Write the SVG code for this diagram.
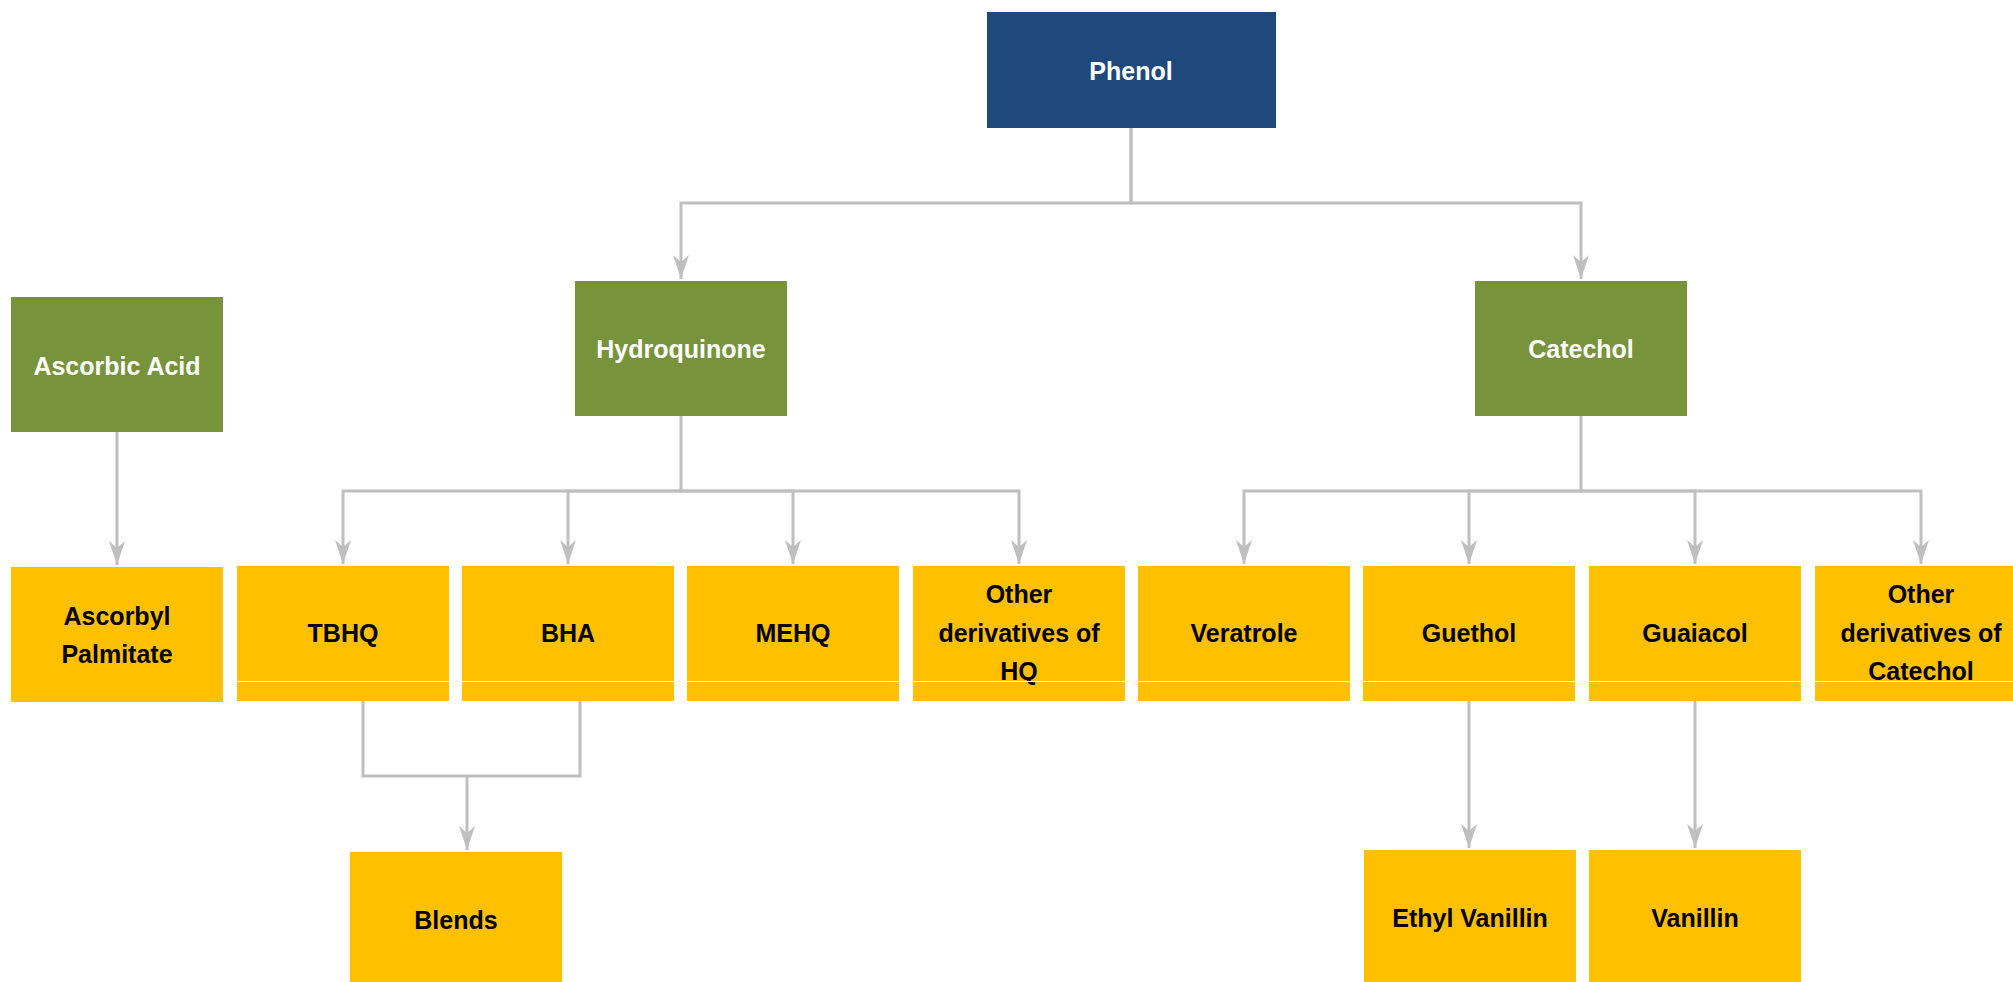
<svg xmlns="http://www.w3.org/2000/svg" width="2013" height="982" viewBox="0 0 2013 982">
<style>
.blue{fill:#1F497D}
.green{fill:#77933C}
.yel{fill:#FFC000}
text{font-family:"Liberation Sans",Arial,sans-serif;font-weight:bold;font-size:25px;text-anchor:middle}
.w{fill:#FFFFFF}
.k{fill:#000000}
.c{fill:none;stroke:#BFBFBF;stroke-width:3}
.a{marker-end:url(#arr)}
</style>
<defs>
<marker id="arr" markerUnits="userSpaceOnUse" markerWidth="26" markerHeight="18" viewBox="0 0 26 18" refX="24" refY="9" orient="auto">
<path d="M0,1 L24,9 L0,17 L7,9 Z" fill="#BFBFBF"/>
</marker>
</defs>
<g id="connectors">
<path class="c a" d="M1131,128 V203 H681 V279"/>
<path class="c a" d="M1131,128 V203 H1581 V279"/>
<path class="c a" d="M681,416 V491 H343 V564"/>
<path class="c a" d="M681,491 H568 V564"/>
<path class="c a" d="M681,491 H793 V564"/>
<path class="c a" d="M681,491 H1019 V564"/>
<path class="c a" d="M1581,416 V491 H1244 V564"/>
<path class="c a" d="M1581,491 H1469 V564"/>
<path class="c a" d="M1581,491 H1695 V564"/>
<path class="c a" d="M1581,491 H1921 V564"/>
<path class="c a" d="M117,432 V565"/>
<path class="c" d="M363,701 V776 H580 V701"/>
<path class="c a" d="M467,776 V850"/>
<path class="c a" d="M1469,701 V848"/>
<path class="c a" d="M1695,701 V848"/>
</g>
<g id="phenol"><rect class="blue" x="987" y="12" width="289" height="116"/><text class="w" x="1131" y="80">Phenol</text></g>
<g id="ascorbic-acid"><rect class="green" x="11" y="297" width="212" height="135"/><text class="w" x="117" y="375">Ascorbic Acid</text></g>
<g id="hydroquinone"><rect class="green" x="575" y="281" width="212" height="135"/><text class="w" x="681" y="358">Hydroquinone</text></g>
<g id="catechol"><rect class="green" x="1475" y="281" width="212" height="135"/><text class="w" x="1581" y="358">Catechol</text></g>
<g id="ascorbyl-palmitate"><rect class="yel" x="11" y="567" width="212" height="135"/><text class="k" x="117" y="625">Ascorbyl</text><text class="k" x="117" y="663">Palmitate</text></g>
<g id="tbhq"><rect class="yel" x="237" y="566" width="212" height="135"/><text class="k" x="343" y="642">TBHQ</text></g>
<g id="bha"><rect class="yel" x="462" y="566" width="212" height="135"/><text class="k" x="568" y="642">BHA</text></g>
<g id="mehq"><rect class="yel" x="687" y="566" width="212" height="135"/><text class="k" x="793" y="642">MEHQ</text></g>
<g id="other-hq"><rect class="yel" x="913" y="566" width="212" height="135"/><text class="k" x="1019" y="603">Other</text><text class="k" x="1019" y="642">derivatives of</text><text class="k" x="1019" y="680">HQ</text></g>
<g id="veratrole"><rect class="yel" x="1138" y="566" width="212" height="135"/><text class="k" x="1244" y="642">Veratrole</text></g>
<g id="guethol"><rect class="yel" x="1363" y="566" width="212" height="135"/><text class="k" x="1469" y="642">Guethol</text></g>
<g id="guaiacol"><rect class="yel" x="1589" y="566" width="212" height="135"/><text class="k" x="1695" y="642">Guaiacol</text></g>
<g id="other-catechol"><rect class="yel" x="1815" y="566" width="212" height="135"/><text class="k" x="1921" y="603">Other</text><text class="k" x="1921" y="642">derivatives of</text><text class="k" x="1921" y="680">Catechol</text></g>
<line x1="237" y1="681.5" x2="2013" y2="681.5" stroke="#FFFFFF" stroke-width="1.2"/>
<g id="blends"><rect class="yel" x="350" y="852" width="212" height="135"/><text class="k" x="456" y="929">Blends</text></g>
<g id="ethyl-vanillin"><rect class="yel" x="1364" y="850" width="212" height="135"/><text class="k" x="1470" y="927">Ethyl Vanillin</text></g>
<g id="vanillin"><rect class="yel" x="1589" y="850" width="212" height="135"/><text class="k" x="1695" y="927">Vanillin</text></g>
</svg>
